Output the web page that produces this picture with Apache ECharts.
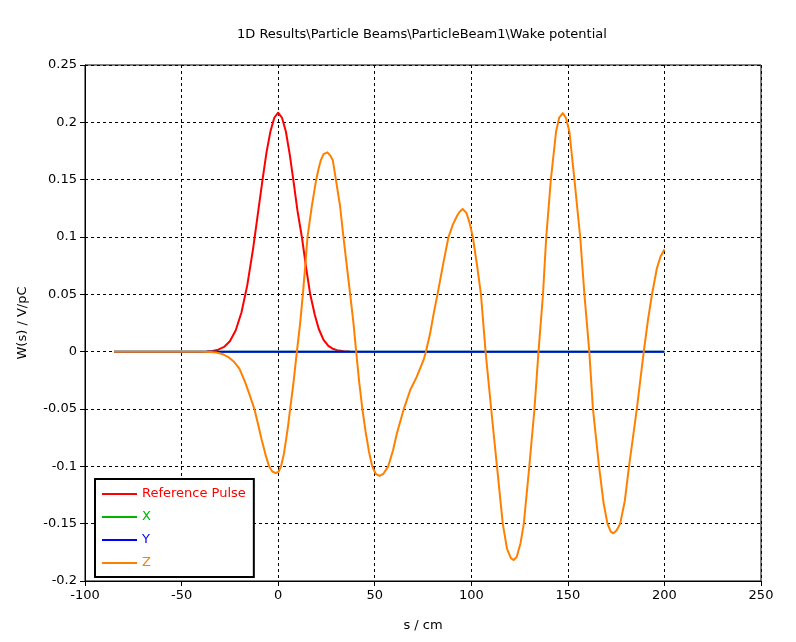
<!DOCTYPE html>
<html>
<head>
<meta charset="utf-8">
<script src="https://cdn.jsdelivr.net/npm/echarts@6/dist/echarts.min.js"></script>
<style>html,body{margin:0;padding:0;background:#fff}#c{width:796px;height:642px}</style>
</head>
<body>
<div id="c"></div>
<script>
var titleText = '1D Results\\Particle Beams\\ParticleBeam1\\Wake potential';
var xName = 's / cm';
var yName = 'W(s) / V/pC';
var seriesNames = ['Reference Pulse', 'X', 'Y', 'Z'];
var seriesColors = ['#ff0000', '#00b400', '#0000ff', '#ff8000'];

var sRef = [-37,-34,-31,-28,-25,-22,-19,-16,-13,-10,-8,-6,-4,-2,0,2,4,6,8,10,12.3,14.5,16.6,19,21,23.5,26,28,30.4,34,37];
var vRef = [0.0002,0.0006,0.0017,0.0041,0.0091,0.0185,0.0342,0.0578,0.0894,0.1262,0.151,0.174,0.192,0.204,0.2084,0.204,0.192,0.172,0.148,0.123,0.0998,0.073,0.05,0.032,0.02,0.0102,0.005,0.0028,0.0013,0.0004,0.0001];

var sX = [-85, 200];
var vX = [0, 0];
var sY = [-85, 200];
var vY = [0, 0];

var sZ = [-85,-60,-40,-35,-32,-29,-26,-23,-20,-17,-14.5,-12.3,-10.3,-8.5,-6.5,-4.7,-3,-1.2,0.3,1.5,3,4.1,5.2,6.2,7.2,8.1,9.7,11.4,12.8,14,15.2,17.4,19.7,21,22.1,23.5,24.5,25.5,27,28.3,29.9,32.1,33.8,35.6,37.3,39,40.4,42,43.6,45.3,47,48.7,50.5,52.5,54.5,57,59.5,61.5,64.9,68.4,71.8,75.3,76.5,78.7,80.5,82.5,85.5,88.2,90.5,92.8,94,95.5,97.5,99,100.8,103,105,107.4,110.3,113.3,116.3,118.5,120.5,121.9,123.5,125.5,127.2,130,132.7,134.8,137.1,138.8,141.2,143.9,145.5,147.4,149,150.8,153.4,156.4,158.6,161.1,163,166.2,168.5,170.5,172.2,173.6,175.2,177.1,179.5,181.6,185.7,189.3,191.5,193.5,196.1,198,200];
var vZ = [0,0,0,-0.0003,-0.0008,-0.002,-0.0045,-0.0085,-0.015,-0.027,-0.039,-0.05,-0.064,-0.077,-0.09,-0.1,-0.1045,-0.106,-0.1045,-0.1,-0.089,-0.077,-0.064,-0.05,-0.037,-0.0247,0,0.0248,0.05,0.0741,0.1,0.1265,0.15,0.16,0.167,0.1722,0.1735,0.1738,0.171,0.167,0.15,0.1265,0.1,0.0741,0.05,0.0248,0,-0.027,-0.05,-0.07,-0.087,-0.1,-0.1065,-0.1084,-0.1065,-0.1,-0.086,-0.0712,-0.0508,-0.0334,-0.0218,-0.0072,0,0.016,0.033,0.05,0.077,0.1,0.111,0.119,0.122,0.1244,0.121,0.113,0.1,0.075,0.05,0,-0.05,-0.1,-0.15,-0.172,-0.18,-0.1817,-0.179,-0.167,-0.15,-0.1008,-0.0502,0,0.0494,0.0998,0.15,0.192,0.204,0.208,0.204,0.192,0.15,0.0998,0.0494,0,-0.0502,-0.1008,-0.132,-0.15,-0.157,-0.1584,-0.156,-0.15,-0.13,-0.1008,-0.0502,0,0.028,0.0494,0.0727,0.083,0.089];

function pairs(xs, ys) { return xs.map(function (x, i) { return [x, ys[i]]; }); }
var allS = [sRef, sX, sY, sZ];
var allV = [vRef, vX, vY, vZ];

var FONT = 'DejaVu Sans';
var chart = echarts.init(document.getElementById('c'), null, {renderer: 'canvas'});
chart.setOption({
  animation: false,
  backgroundColor: '#ffffff',
  title: {
    text: titleText, left: 232, top: 23,
    textStyle: {fontFamily: FONT, fontSize: 13, fontWeight: 'normal', color: '#000'}
  },
  grid: {left: 85, right: 35, top: 65, bottom: 61, show: true, borderColor: '#000', borderWidth: 1},
  legend: {
    orient: 'vertical', left: 95, top: 479,
    padding: [7, 8, 6, 7],
    borderColor: '#000', borderWidth: 2, backgroundColor: '#fff',
    itemWidth: 35, itemHeight: 2, itemGap: 7, icon: 'rect',
    textStyle: {fontFamily: FONT, fontSize: 13, lineHeight: 16},
    data: seriesNames.map(function (n, i) { return {name: n, textStyle: {color: seriesColors[i]}}; })
  },
  xAxis: {
    type: 'value', min: -100, max: 250, interval: 50,
    name: xName, nameLocation: 'middle', nameGap: 38,
    nameTextStyle: {fontFamily: FONT, fontSize: 13, color: '#000'},
    axisLine: {show: true, onZero: false, lineStyle: {color: '#000', width: 1}},
    axisTick: {show: true, length: 5, lineStyle: {color: '#000'}},
    axisLabel: {fontFamily: FONT, fontSize: 13, color: '#000', margin: 8},
    splitLine: {show: true, lineStyle: {color: '#000', type: [3, 3], width: 1}}
  },
  yAxis: {
    type: 'value', min: -0.2, max: 0.25, interval: 0.05,
    name: yName, nameLocation: 'middle', nameGap: 56, nameRotate: 90,
    nameTextStyle: {fontFamily: FONT, fontSize: 13, color: '#000'},
    axisLine: {show: true, onZero: false, lineStyle: {color: '#000', width: 1}},
    axisTick: {show: true, length: 5, lineStyle: {color: '#000'}},
    axisLabel: {fontFamily: FONT, fontSize: 13, color: '#000', margin: 8},
    splitLine: {show: true, lineStyle: {color: '#000', type: [3, 3], width: 1}}
  },
  series: seriesNames.map(function (n, i) {
    return {
      name: n, type: 'line', data: pairs(allS[i], allV[i]),
      symbol: 'none', showSymbol: false, smooth: false,
      lineStyle: {color: seriesColors[i], width: 2, join: 'round'},
      itemStyle: {color: seriesColors[i]},
      z: 2 + i
    };
  })
});
</script>
</body>
</html>
